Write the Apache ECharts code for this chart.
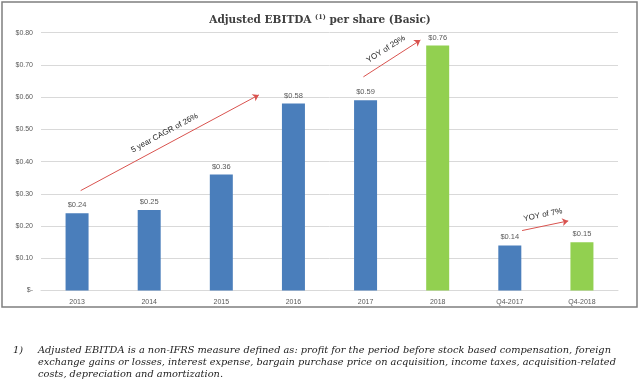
<!DOCTYPE html>
<html>
<head>
<meta charset="utf-8">
<script src="https://cdn.jsdelivr.net/npm/echarts@6/dist/echarts.min.js"></script>
<style>html,body{margin:0;padding:0;background:#fff;}#c{width:640px;height:388px;}</style>
</head>
<body>
<div id="c"></div>
<script>
const categories = ['2013','2014','2015','2016','2017','2018','Q4-2017','Q4-2018'];
const values = [0.24, 0.25, 0.36, 0.58, 0.59, 0.76, 0.14, 0.15];
const highlighted = ['2018','Q4-2018'];
const yTicks = [0, 0.1, 0.2, 0.3, 0.4, 0.5, 0.6, 0.7, 0.8];
// annotation arrows: [label, [xStart, yStart], [xEnd, yEnd]] in category-index / value units
const arrowLabels = ['5 year CAGR of 26%', 'YOY of 29%', 'YOY of 7%'];
const arrowStarts = [[0.05, 0.31], [3.97, 0.663], [6.17, 0.186]];
const arrowEnds = [[2.52, 0.607], [4.76, 0.777], [6.81, 0.216]];
const footnoteLines = [
  'Adjusted EBITDA is a non-IFRS measure defined as: profit for the period before stock based compensation, foreign',
  'exchange gains or losses, interest expense, bargain purchase price on acquisition, income taxes, acquisition-related',
  'costs, depreciation and amortization.'
];

const BLUE = '#4a7ebb', GREEN = '#92d050', GRAY = '#595959';
const chart = echarts.init(document.getElementById('c'), null, {renderer: 'canvas'});
const fmt = v => v === 0 ? '$-' : '$' + v.toFixed(2);

const FN_FONT = 'italic 9.8px "DejaVu Serif"';
const graphics = [
  {type: 'rect', shape: {x: 2, y: 2, width: 635, height: 305}, style: {fill: 'none', stroke: '#7f7f7f', lineWidth: 1.5}, z: 0, silent: true},
  {type: 'text', left: 13, top: 345, style: {text: '1)', font: FN_FONT, fill: '#222'}}
];
footnoteLines.forEach((t, i) => {
  graphics.push({type: 'text', left: 38, top: 345 + i * 12, style: {text: t, font: FN_FONT, fill: '#222'}});
});

chart.setOption({
  animation: false,
  title: {
    text: '{m|Adjusted EBITDA }{s|(1)}{m| per share (Basic)}',
    left: 'center', top: 9,
    textStyle: {
      rich: {
        m: {fontFamily: 'DejaVu Serif', fontWeight: 'bold', fontSize: 10.5, color: '#404040'},
        s: {fontFamily: 'DejaVu Serif', fontWeight: 'bold', fontSize: 6.5, color: '#404040', verticalAlign: 'top', padding: [0, 0, 5, 0]}
      }
    }
  },
  grid: {left: 41, right: 22, top: 32.7, bottom: 97.5, containLabel: false},
  xAxis: [
    {
      type: 'category', data: categories,
      axisLine: {show: true, lineStyle: {color: '#d9d9d9', width: 1}},
      axisTick: {show: false},
      axisLabel: {color: GRAY, fontFamily: 'Liberation Sans', fontSize: 7, margin: 8}
    },
    {type: 'value', min: -0.5, max: 7.5, show: false}
  ],
  yAxis: {
    type: 'value', min: 0, max: 0.8, interval: 0.1,
    axisLine: {show: false}, axisTick: {show: false},
    splitLine: {lineStyle: {color: '#d9d9d9', width: 1}},
    axisLabel: {color: GRAY, fontFamily: 'Liberation Sans', fontSize: 7, margin: 8,
      formatter: v => fmt(yTicks.reduce((a, b) => Math.abs(b - v) < Math.abs(a - v) ? b : a))}
  },
  series: [
    {
      type: 'bar', data: values.map((v, i) => ({value: v, itemStyle: {color: highlighted.includes(categories[i]) ? GREEN : BLUE}})),
      barWidth: 23,
      label: {show: true, position: 'top', distance: 4, color: GRAY, fontFamily: 'Liberation Sans', fontSize: 7.5, formatter: p => fmt(p.value)}
    },
    {
      type: 'line', xAxisIndex: 1, data: [], silent: true,
      markLine: {
        silent: true, symbol: ['none', 'arrow'], symbolSize: 6,
        lineStyle: {color: '#d9534f', width: 1, type: 'solid'},
        label: {show: true, position: 'middle', distance: 7, color: '#262626', fontFamily: 'Liberation Sans', fontSize: 8},
        data: arrowLabels.map((lab, i) => [
          {coord: arrowStarts[i], name: lab, label: {formatter: lab}},
          {coord: arrowEnds[i]}
        ])
      }
    }
  ],
  graphic: graphics
});
</script>
</body>
</html>
